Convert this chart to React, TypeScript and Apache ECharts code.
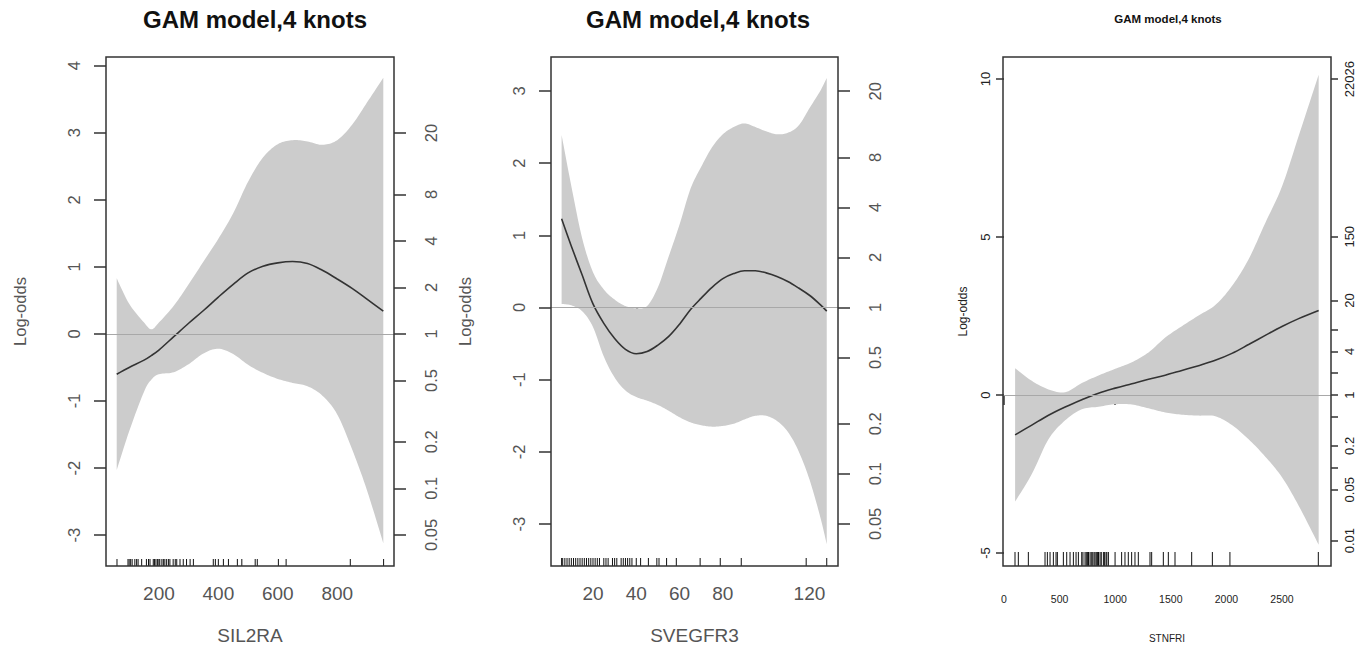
import React, { useEffect, useRef } from "react";
import * as echarts from "echarts";

// ---------- Panel 1 : SIL2RA ----------
const P1_X = [58, 100, 150, 175, 200, 250, 300, 350, 400, 450, 500, 550, 600, 650, 700, 750, 800, 850, 900, 955];
const P1_FIT = [-0.6, -0.5, -0.39, -0.32, -0.24, -0.04, 0.16, 0.35, 0.55, 0.74, 0.91, 1.01, 1.06, 1.08, 1.05, 0.95, 0.82, 0.68, 0.52, 0.34];
const P1_UPPER = [0.83, 0.45, 0.17, 0.07, 0.17, 0.42, 0.74, 1.08, 1.42, 1.8, 2.27, 2.63, 2.83, 2.89, 2.87, 2.82, 2.89, 3.12, 3.45, 3.82];
const P1_LOWER = [-2.03, -1.45, -0.86, -0.68, -0.6, -0.57, -0.45, -0.29, -0.22, -0.3, -0.46, -0.58, -0.67, -0.73, -0.78, -0.92, -1.2, -1.72, -2.33, -3.12];
const P1_RUG = [59, 96, 100, 105, 110, 119, 125, 130, 142, 158, 165, 170, 181, 185, 190, 195, 200, 203, 210, 215, 220, 226, 232, 237, 248, 255, 260, 271, 282, 293, 305, 316, 383, 390, 400, 417, 434, 464, 479, 524, 531, 602, 628, 844, 956];
const P1_XTICKS = [200, 400, 600, 800];
const P1_YTICKS = [-3, -2, -1, 0, 1, 2, 3, 4];

// ---------- Panel 2 : SVEGFR3 ----------
const P2_X = [5.5, 10, 15, 20, 25, 30, 35, 40, 45, 50, 55, 60, 65, 70, 75, 80, 85, 90, 95, 100, 105, 110, 115, 120, 125, 128];
const P2_FIT = [1.23, 0.85, 0.45, 0.05, -0.22, -0.43, -0.58, -0.64, -0.61, -0.52, -0.4, -0.23, -0.03, 0.13, 0.28, 0.4, 0.47, 0.51, 0.51, 0.48, 0.43, 0.36, 0.27, 0.17, 0.04, -0.05];
const P2_UPPER = [2.39, 1.68, 0.96, 0.49, 0.25, 0.11, 0.02, -0.01, 0.02, 0.28, 0.71, 1.15, 1.64, 1.95, 2.22, 2.4, 2.5, 2.55, 2.5, 2.44, 2.4, 2.42, 2.52, 2.76, 3.0, 3.18];
const P2_LOWER = [0.05, 0.03, -0.05, -0.27, -0.68, -0.97, -1.15, -1.24, -1.29, -1.35, -1.43, -1.52, -1.59, -1.63, -1.65, -1.64, -1.61, -1.55, -1.5, -1.5, -1.57, -1.72, -1.99, -2.38, -2.9, -3.28];
const P2_RUG = [5.5, 6, 7, 8, 9, 10, 11, 12, 13, 14, 15, 16, 17, 18, 19, 20, 21, 22, 23, 25, 26, 27, 29, 30, 31, 33, 34, 35, 36, 37, 38, 40, 42, 45.6, 49.5, 50.5, 54, 58.5, 69.5, 78.8, 88.5, 118.5, 128];
const P2_XTICKS = [20, 40, 60, 80, 100, 120];
const P2_XLABELS = [20, 40, 60, 80, 120];
const P2_YTICKS = [-3, -2, -1, 0, 1, 2, 3];

// ---------- Panel 3 : STNFRI ----------
const P3_X = [100, 250, 400, 550, 700, 850, 1000, 1150, 1300, 1450, 1600, 1750, 1900, 2050, 2200, 2350, 2500, 2650, 2830];
const P3_FIT = [-1.26, -0.95, -0.64, -0.38, -0.15, 0.06, 0.22, 0.36, 0.5, 0.63, 0.78, 0.93, 1.1, 1.32, 1.6, 1.89, 2.17, 2.42, 2.68];
const P3_UPPER = [0.85, 0.45, 0.18, 0.09, 0.38, 0.62, 0.83, 1.04, 1.35, 1.82, 2.18, 2.52, 2.85, 3.45, 4.3, 5.45, 6.6, 8.2, 10.14];
const P3_LOWER = [-3.37, -2.5, -1.4, -0.8, -0.45, -0.37, -0.29, -0.3, -0.42, -0.55, -0.62, -0.65, -0.67, -0.95, -1.4, -1.95, -2.6, -3.5, -4.74];
const P3_RUG = [99, 129, 219, 369, 390, 414, 444, 468, 480, 534, 564, 594, 624, 648, 669, 699, 710, 729, 740, 750, 760, 774, 785, 798, 810, 819, 830, 840, 850, 864, 875, 894, 905, 918, 925, 939, 999, 1058, 1088, 1118, 1148, 1178, 1208, 1313, 1328, 1433, 1478, 1538, 1688, 1874, 2032, 2827];
const P3_XTICKS = [0, 500, 1000, 1500, 2000, 2500];
const P3_YTICKS = [-5, 0, 5, 10];

// odds scale on the right axes
const ODDS_A = [0.05, 0.1, 0.2, 0.5, 1, 2, 4, 8, 20];
const ODDS_C = [0.01, 0.05, 0.1, 0.2, 0.5, 1, 2, 4, 8, 20, 150, 22026];
const ODDS_C_LABELS = [0.01, 0.05, 0.2, 1, 4, 20, 150, 22026];

const TITLE = "GAM model,4 knots";
const X_NAMES = ["SIL2RA", "SVEGFR3", "STNFRI"];
const Y_NAME = "Log-odds";

const SANS = '"Liberation Sans", Arial, sans-serif';

type Panel = {
  x: number[]; fit: number[]; up: number[]; lo: number[]; rug: number[];
  grid: { left: number; top: number; width: number; height: number };
  xMin: number; xMax: number; yMin: number; yMax: number;
  xTicks: number[]; xLabels: number[]; yTicks: number[];
  odds: number[]; oddsLabels: number[]; xName: string; rugLen: number;
  small: boolean; titleX: number;
};

const PANELS: Panel[] = [
  {
    x: P1_X, fit: P1_FIT, up: P1_UPPER, lo: P1_LOWER, rug: P1_RUG,
    grid: { left: 106, top: 57, width: 288, height: 509 },
    xMin: 22, xMax: 991, yMin: -3.46, yMax: 4.13,
    xTicks: P1_XTICKS, xLabels: P1_XTICKS, yTicks: P1_YTICKS,
    odds: ODDS_A, oddsLabels: ODDS_A, xName: X_NAMES[0], rugLen: 7, small: false, titleX: 255,
  },
  {
    x: P2_X, fit: P2_FIT, up: P2_UPPER, lo: P2_LOWER, rug: P2_RUG,
    grid: { left: 551, top: 57, width: 287, height: 509 },
    xMin: 0.6, xMax: 133.2, yMin: -3.58, yMax: 3.47,
    xTicks: P2_XTICKS, xLabels: P2_XLABELS, yTicks: P2_YTICKS,
    odds: ODDS_A, oddsLabels: ODDS_A, xName: X_NAMES[1], rugLen: 8, small: false, titleX: 698,
  },
  {
    x: P3_X, fit: P3_FIT, up: P3_UPPER, lo: P3_LOWER, rug: P3_RUG,
    grid: { left: 1003, top: 57, width: 328, height: 509 },
    xMin: -9, xMax: 2941, yMin: -5.41, yMax: 10.7,
    xTicks: P3_XTICKS, xLabels: P3_XTICKS, yTicks: P3_YTICKS,
    odds: ODDS_C, oddsLabels: ODDS_C_LABELS, xName: X_NAMES[2], rugLen: 14, small: true, titleX: 1168,
  },
];

// Catmull-Rom smoothing of a pixel-space polyline (rendering only)
function smoothPath(pts: number[][], seg = 10): number[][] {
  const n = pts.length;
  const out: number[][] = [];
  for (let i = 0; i < n - 1; i++) {
    const p0 = pts[Math.max(i - 1, 0)];
    const p1 = pts[i];
    const p2 = pts[i + 1];
    const p3 = pts[Math.min(i + 2, n - 1)];
    for (let k = 0; k < seg; k++) {
      const t = k / seg;
      const t2 = t * t;
      const t3 = t2 * t;
      const c = (a: number, b: number, cc: number, d: number) =>
        0.5 * (2 * b + (-a + cc) * t + (2 * a - 5 * b + 4 * cc - d) * t2 + (-a + 3 * b - 3 * cc + d) * t3);
      out.push([c(p0[0], p1[0], p2[0], p3[0]), c(p0[1], p1[1], p2[1], p3[1])]);
    }
  }
  out.push(pts[n - 1]);
  return out;
}

function buildOption() {
  const grids: any[] = [];
  const xAxes: any[] = [];
  const yAxes: any[] = [];
  const series: any[] = [];
  const graphic: any[] = [];

  PANELS.forEach((p, i) => {
    const s = p.small;
    const txtColor = s ? "#222" : "#555";
    const tickColor = "#333";
    grids.push({ ...p.grid, show: false });

    xAxes.push({
      type: "value", gridIndex: i, min: p.xMin, max: p.xMax,
      axisLine: { show: false },
      splitLine: { show: false },
      axisTick: { show: true, inside: false, length: 10, customValues: p.xTicks, lineStyle: { color: tickColor, width: 1.5 } },
      axisLabel: {
        customValues: p.xLabels, color: txtColor, fontFamily: SANS, fontSize: s ? 10.5 : 19, margin: s ? 27 : 18,
        formatter: (v: number) => String(v),
      },
      name: p.xName, nameLocation: "middle", nameGap: s ? 67 : 60,
      nameTextStyle: { color: txtColor, fontFamily: SANS, fontSize: s ? 10 : 19 },
    });

    yAxes.push({
      type: "value", gridIndex: i, min: p.yMin, max: p.yMax, position: "left",
      axisLine: { show: false },
      splitLine: { show: false },
      axisTick: { show: true, inside: false, length: s ? 8 : 12, customValues: p.yTicks, lineStyle: { color: tickColor, width: 1.5 } },
      axisLabel: {
        customValues: p.yTicks, rotate: 90, color: txtColor, fontFamily: SANS, fontSize: s ? 13 : 16.5, margin: s ? 11 : 24,
        formatter: (v: number) => String(v),
      },
      name: Y_NAME, nameLocation: "middle", nameGap: s ? 34 : 78, nameRotate: 90,
      nameTextStyle: { color: txtColor, fontFamily: SANS, fontSize: s ? 12 : 16.5 },
    });
    const logTicks = p.odds.map((o) => Math.log(o));
    const logLabels = p.oddsLabels.map((o) => Math.log(o));
    const odds = p.odds;
    yAxes.push({
      type: "value", gridIndex: i, min: p.yMin, max: p.yMax, position: "right",
      axisLine: { show: false },
      splitLine: { show: false },
      axisTick: { show: true, inside: false, length: s ? 7 : 12, customValues: logTicks, lineStyle: { color: tickColor, width: 1.5 } },
      axisLabel: {
        customValues: logLabels, rotate: 90, color: txtColor, fontFamily: SANS, fontSize: s ? 13 : 16.5, margin: s ? 12 : 28,
        formatter: (v: number) => {
          const o = odds.find((d) => Math.abs(Math.log(d) - v) < 1e-6);
          return o === undefined ? "" : String(o);
        },
      },
    });

    // confidence band as one polygon (upper bound forward, lower bound backward)
    const xs = p.x, up = p.up, lo = p.lo;
    series.push({
      type: "custom", xAxisIndex: i, yAxisIndex: i * 2, silent: true, z: 1,
      data: [[xs[0], lo[0]]],
      renderItem: (params: any, api: any) => {
        const top = smoothPath(xs.map((x, k) => api.coord([x, up[k]])));
        const bot = smoothPath(xs.map((x, k) => api.coord([x, lo[k]])));
        return {
          type: "polygon",
          shape: { points: top.concat(bot.reverse()) },
          style: { fill: "#cccccc", stroke: "none" },
        };
      },
    });
    series.push({
      type: "line", xAxisIndex: i, yAxisIndex: i * 2,
      data: p.x.map((x, k) => [x, p.fit[k]]), smooth: 0.35, showSymbol: false, silent: true,
      lineStyle: { color: "#333", width: 1.6 }, z: 4,
      markLine: {
        silent: true, symbol: "none", label: { show: false },
        lineStyle: { color: "#a8a8a8", width: 1.2, type: "solid" },
        data: [{ yAxis: 0 }],
      },
    });
    const len = p.rugLen;
    const yMin = p.yMin;
    series.push({
      type: "custom", xAxisIndex: i, yAxisIndex: i * 2, silent: true, z: 5,
      data: p.rug.map((r) => [r, yMin]),
      renderItem: (params: any, api: any) => {
        const pt = api.coord([api.value(0), api.value(1)]);
        return {
          type: "line",
          shape: { x1: pt[0], y1: pt[1], x2: pt[0], y2: pt[1] - len },
          style: { stroke: "#111", lineWidth: 1 },
        };
      },
    });

    graphic.push({
      type: "rect", silent: true, z: 100,
      shape: { x: p.grid.left, y: p.grid.top, width: p.grid.width, height: p.grid.height },
      style: { fill: "none", stroke: "#333", lineWidth: 1.5 },
    });
    graphic.push({
      type: "text", x: p.titleX, y: 19,
      style: {
        text: TITLE, fill: "#111",
        font: s ? `bold 11.5px ${SANS}` : `bold 24px ${SANS}`,
        textAlign: "center", textVerticalAlign: "middle", align: "center", verticalAlign: "middle",
      },
    });
  });

  return {
    animation: false,
    backgroundColor: "#fff",
    grid: grids,
    xAxis: xAxes,
    yAxis: yAxes,
    series,
    graphic,
  };
}

export default function App() {
  const ref = useRef<HTMLDivElement>(null);
  useEffect(() => {
    const chart = echarts.init(ref.current as HTMLDivElement, null, { renderer: "svg" });
    chart.setOption(buildOption() as any);
    return () => chart.dispose();
  }, []);
  return (
    <div
      ref={ref}
      style={{ position: "fixed", left: 0, top: 0, width: 1368, height: 652, background: "#fff" }}
    />
  );
}
